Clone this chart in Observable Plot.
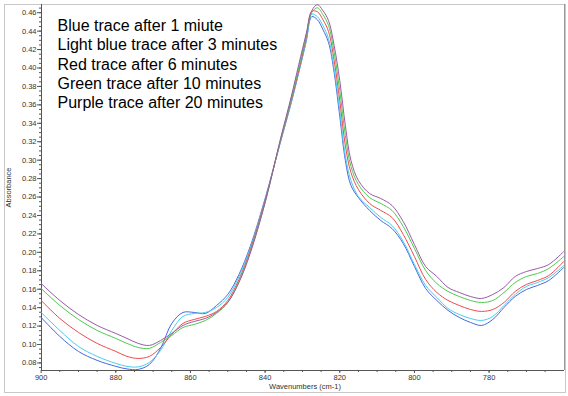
<!DOCTYPE html>
<html><head><meta charset="utf-8">
<script src="https://cdn.jsdelivr.net/npm/d3@7"></script>
<script src="https://cdn.jsdelivr.net/npm/@observablehq/plot@0.6"></script>
<style>body{margin:0;background:#fff;font-family:Arial,"Liberation Sans",sans-serif}</style>
</head><body><div id="chart"></div>
<script>
const wavenumbers = [900,895,890,885,880,877,874,871,868,865,862,859,856,853,850,847,844,840,836,833,831,829,827.5,826,824.5,823,821.5,820,818.5,817,815,812,809,806,803,800,797,794,791,788,785,782,779,776,773,770,767,764,760];
const purple = [0.1662,0.1478,0.1326,0.1207,0.1120,0.1066,0.1012,0.0990,0.1044,0.1120,0.1207,0.1250,0.1283,0.1348,0.1457,0.1673,0.1988,0.2540,0.3212,0.3689,0.4036,0.4372,0.4622,0.4687,0.4622,0.4513,0.4242,0.3863,0.3375,0.2996,0.2779,0.2638,0.2584,0.2508,0.2334,0.2085,0.1847,0.1738,0.1619,0.1565,0.1521,0.1500,0.1543,0.1619,0.1738,0.1792,0.1825,0.1868,0.2009];
const green = [0.1608,0.1424,0.1272,0.1153,0.1066,0.1012,0.0968,0.0958,0.1023,0.1099,0.1185,0.1218,0.1261,0.1337,0.1457,0.1684,0.1998,0.2540,0.3202,0.3668,0.4004,0.4351,0.4600,0.4654,0.4578,0.4459,0.4166,0.3754,0.3267,0.2931,0.2735,0.2594,0.2530,0.2454,0.2280,0.2042,0.1803,0.1662,0.1576,0.1521,0.1478,0.1456,0.1478,0.1565,0.1673,0.1738,0.1771,0.1825,0.1955];
const red = [0.1478,0.1283,0.1131,0.1012,0.0925,0.0871,0.0849,0.0871,0.0968,0.1110,0.1229,0.1272,0.1305,0.1359,0.1478,0.1706,0.2020,0.2562,0.3191,0.3646,0.3971,0.4329,0.4615,0.4610,0.4524,0.4394,0.4080,0.3646,0.3158,0.2865,0.2681,0.2530,0.2454,0.2378,0.2194,0.1955,0.1706,0.1565,0.1478,0.1424,0.1380,0.1359,0.1380,0.1456,0.1576,0.1652,0.1695,0.1749,0.1901];
const lightBlue = [0.1348,0.1153,0.0979,0.0871,0.0795,0.0763,0.0757,0.0806,0.0936,0.1153,0.1305,0.1337,0.1348,0.1402,0.1511,0.1738,0.2042,0.2573,0.3180,0.3624,0.3950,0.4296,0.4584,0.4557,0.4459,0.4318,0.3993,0.3538,0.3050,0.2779,0.2605,0.2486,0.2378,0.2291,0.2118,0.1868,0.1641,0.1511,0.1391,0.1326,0.1283,0.1261,0.1305,0.1424,0.1543,0.1630,0.1673,0.1727,0.1857];
const blue = [0.1294,0.1088,0.0925,0.0828,0.0763,0.0735,0.0730,0.0784,0.0958,0.1229,0.1348,0.1348,0.1337,0.1424,0.1543,0.1760,0.2063,0.2584,0.3180,0.3624,0.3950,0.4286,0.4557,0.4524,0.4416,0.4275,0.3950,0.3473,0.2996,0.2725,0.2594,0.2454,0.2345,0.2258,0.2096,0.1847,0.1608,0.1478,0.1370,0.1294,0.1240,0.1207,0.1272,0.1402,0.1521,0.1597,0.1641,0.1695,0.1836];

const seriesNames = ["Blue","Light blue","Red","Green","Purple"];
const seriesColors = ["#4868dc","#48cdee","#ee4c4c","#4ccc4c","#9a5aa8"];
const seriesValues = [blue, lightBlue, red, green, purple];

const legendLines = [
  "Blue trace after 1 miute",
  "Light blue trace after 3 minutes",
  "Red trace after 6 minutes",
  "Green trace after 10 minutes",
  "Purple trace after 20 minutes"
];
const xTicks = [900,880,860,840,820,800,780];
const yTicks = [0.08,0.10,0.12,0.14,0.16,0.18,0.20,0.22,0.24,0.26,0.28,0.30,0.32,0.34,0.36,0.38,0.40,0.42,0.44,0.46];
const xLabel = "Wavenumbers (cm-1)";
const yLabel = "Absorbance";
const xDomain = [899.9, 759.8];
const yDomain = [0.0718, 0.4689];

const xMinor = d3.range(765, 900, 5);
const yMinor = d3.range(0, 79).map(i => 0.075 + i * 0.005).filter(v => v < yDomain[1]);

const rows = seriesNames.flatMap((name, s) =>
  wavenumbers.map((w, i) => ({w, a: seriesValues[s][i], name})));

const chart = Plot.plot({
  width: 568, height: 396,
  marginLeft: 41, marginRight: 4, marginTop: 4, marginBottom: 26,
  style: {fontFamily: "Arial, 'Liberation Sans', sans-serif", fontSize: "7.5px", color: "#333", background: "#fff"},
  x: {domain: xDomain},
  y: {domain: yDomain},
  color: {domain: seriesNames, range: seriesColors},
  marks: [
    Plot.frame({stroke: "#c8c8c8", insetLeft: -37, insetBottom: -22, insetRight: -1}),
    Plot.ruleX([xDomain[1]], {stroke: "#999"}),
    Plot.axisY({ticks: yMinor, tickSize: 2, tickFormat: () => "", label: null, stroke: "#555"}),
    Plot.axisY({ticks: yTicks, tickSize: 4, tickPadding: 1, tickFormat: ".2f", label: null, stroke: "#555"}),
    Plot.axisX({ticks: xMinor, tickSize: 2, tickFormat: () => "", label: null, stroke: "#555"}),
    Plot.axisX({ticks: xTicks, tickSize: 3, tickPadding: 1, tickFormat: "d", label: null, stroke: "#555"}),
    Plot.ruleX([xDomain[0]], {stroke: "#555"}),
    Plot.ruleY([yDomain[0]], {stroke: "#555"}),
    Plot.line(rows, {x: "w", y: "a", z: "name", stroke: "name", strokeWidth: 1, curve: "catmull-rom", clip: true}),
    Plot.text([legendLines.join("\n")], {frameAnchor: "top-left", dx: 16, dy: 13, lineAnchor: "top", textAnchor: "start", fontSize: 16, lineHeight: 1.2, fill: "#000"}),
    Plot.text([yLabel], {frameAnchor: "left", dx: -33, rotate: -90, textAnchor: "middle", lineAnchor: "middle", fill: "#333"}),
    Plot.text([xLabel], {frameAnchor: "bottom", dx: 2, dy: 16.5, textAnchor: "middle", lineAnchor: "middle", fill: "#333"})
  ]
});
document.getElementById("chart").append(chart);
</script>
</body></html>
